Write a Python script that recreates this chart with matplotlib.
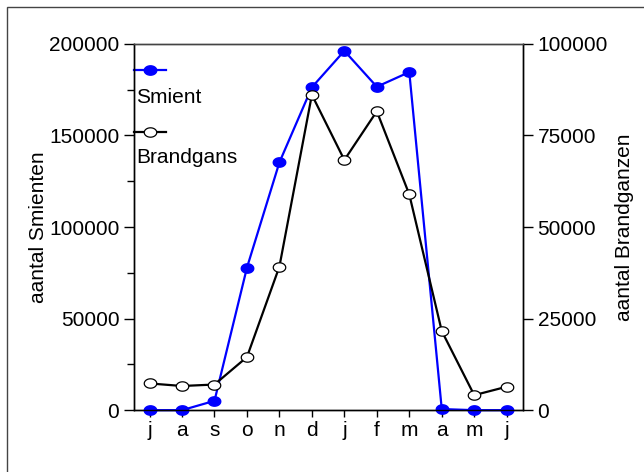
import numpy as np
import matplotlib
matplotlib.use('Agg')
import matplotlib.pyplot as plt
from matplotlib.path import Path
from matplotlib.patches import Rectangle
from matplotlib.ticker import MultipleLocator

plt.rcParams['font.family'] = ['Liberation Sans', 'DejaVu Sans']

# Data
months = ['j', 'a', 's', 'o', 'n', 'd', 'j', 'f', 'm', 'a', 'm', 'j']
smient = [0, 0, 5100, 77800, 135300, 176300, 196200, 176600, 184600, 600, 0, 0]
brandgans = [7300, 6600, 7000, 14500, 39200, 86100, 68300, 81600, 58900, 21600, 4100, 6400]

# ellipse-shaped marker, a bit wider than tall
t = np.linspace(0, 2 * np.pi, 40)
ellipse = Path(np.column_stack([np.cos(t), 0.75 * np.sin(t)]), closed=True)

fig = plt.figure(figsize=(6.44, 4.72), dpi=100)
ax = fig.add_axes([0.208, 0.131, 0.604, 0.776])
ax2 = ax.twinx()

x = np.arange(len(months))
ax.plot(x, smient, color='#0000ff', lw=1.6, marker=ellipse, ms=9,
        mfc='#0000ff', mec='#0000ff', clip_on=False, zorder=3)
ax2.plot(x, brandgans, color='black', lw=1.6, marker=ellipse, ms=9,
         mfc='white', mec='black', mew=0.9, clip_on=False, zorder=3)

ax.set_xlim(-0.48, 11.5)
ax.set_ylim(0, 200000)
ax2.set_ylim(0, 100000)
ax.set_xticks(x)
ax.set_xticklabels(months)
ax.yaxis.set_major_locator(MultipleLocator(50000))
ax.yaxis.set_minor_locator(MultipleLocator(25000))
ax2.yaxis.set_major_locator(MultipleLocator(25000))

ax.tick_params(axis='both', which='major', labelsize=15, length=7, width=1, direction='out')
ax.tick_params(axis='y', which='minor', length=5, width=1)
ax.tick_params(axis='x', length=5, pad=3)
ax2.tick_params(axis='y', labelsize=15, length=7, width=1, direction='out')
ax.set_ylabel('aantal Smienten', fontsize=15, labelpad=1)
ax2.set_ylabel('aantal Brandganzen', fontsize=15, labelpad=5)

for a in (ax, ax2):
    for s in a.spines.values():
        s.set_linewidth(1)
ax2.spines['top'].set_color('#444444')
ax.spines['top'].set_color('#444444')

# legend: handle line with the label underneath
tr = ax.transAxes
ax.plot([0, 0.082], [0.93, 0.93], transform=tr, color='#0000ff', lw=1.6,
        clip_on=False)
ax.plot([0.04], [0.93], transform=tr, marker=ellipse, ms=9, color='#0000ff',
        clip_on=False)
ax.text(0.005, 0.855, 'Smient', transform=tr, fontsize=15, va='center')
ax.plot([0, 0.082], [0.76, 0.76], transform=tr, color='black', lw=1.6,
        clip_on=False)
ax.plot([0.04], [0.76], transform=tr, marker=ellipse, ms=9, mfc='white',
        mec='black', mew=0.9, clip_on=False)
ax.text(0.005, 0.69, 'Brandgans', transform=tr, fontsize=15, va='center')

# outer frame, only top and left edges fall inside the image
fig.patches.append(Rectangle((7 / 644, -0.1), 1.2, 1 - 7 / 472 + 0.1,
                             transform=fig.transFigure, fill=False,
                             edgecolor='#444444', lw=1))

fig.savefig('out.png', dpi=100)
